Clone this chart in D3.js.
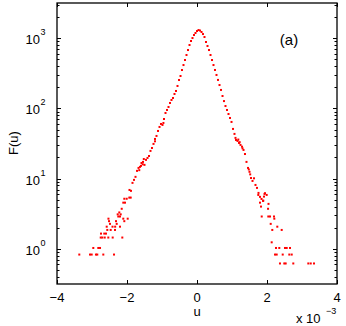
<!DOCTYPE html>
<html>
<head>
<meta charset="utf-8">
<script src="https://cdn.jsdelivr.net/npm/d3@7"></script>
<style>
  body { margin: 0; background: #fff; }
  text { font-family: "Liberation Sans", Arial, sans-serif; fill: #000; }
</style>
</head>
<body>
<div class="chart"></div>
<script>
// u is in units of 1e-3 (axis shows "x 10^-3")
const coreU = [-1.929,-1.886,-1.843,-1.800,-1.757,-1.714,-1.671,-1.629,-1.586,-1.543,-1.500,-1.457,-1.414,-1.371,-1.329,-1.286,-1.243,-1.200,-1.157,-1.114,-1.071,-1.029,-0.986,-0.943,-0.900,-0.857,-0.814,-0.771,-0.729,-0.686,-0.643,-0.600,-0.557,-0.514,-0.471,-0.429,-0.386,-0.343,-0.300,-0.257,-0.214,-0.171,-0.129,-0.086,-0.043,0,
  0.043,0.086,0.129,0.171,0.214,0.257,0.300,0.343,0.386,0.429,0.471,0.514,0.557,0.600,0.643,0.686,0.729,0.771,0.814,0.857,0.900,0.943,0.986,1.029,1.071,1.114,1.157,1.200,1.243,1.286,1.329,1.371,1.414,1.457,1.500,1.543,1.586,1.629,1.671,1.714,1.757,1.800,1.843,1.886,1.929];
const coreF = [6.9,6.7,8.7,9.6,10.6,12.9,14.2,14.7,16.7,17.3,15.7,18.5,19.7,21.0,24.8,27.3,31.2,36.7,40.5,47.7,54.4,60.0,58.1,70.6,86.0,94.9,104.7,119.4,131.7,140.6,160.3,176.9,208.4,253.6,289,351.6,414,488,575,677,798,910,1003,1107,1183,1262,
  1303,1282,1222,1143,1037,881,773,677,575,488,414,352,299,254,215,183,150,127,108,94.9,83.2,73.0,64.1,51.0,43.3,35.5,34.4,32.2,30.2,28.5,25.6,22.4,17.3,14.2,12.5,10.2,9.27,10.1,8.13,7.38,6.26,5.5,5.14,4.82,6.06];

// extra scattered points along the flanks
const scatterU = [-1.55,-1.60,-1.65,-1.52,-1.20,-0.96,1.10,1.18,1.22,1.30,1.48,1.52];
const scatterF = [16.0,15.2,13.2,19.0,34.0,62.0,38.0,36.0,33.0,27.0,13.5,11.5];

const leftTailU = [-3.363,-3.057,-3.009,-2.886,-2.849,-2.677,-2.371,
  -2.963,-2.820,-2.771,
  -2.751,-2.706,-2.637,-2.534,-2.409,-2.134,
  -2.743,-2.649,-2.600,
  -2.563,-2.466,-2.343,
  -2.580,-2.414,-2.338,-2.200,
  -2.486,-2.294,
  -2.514,-2.314,-2.077,
  -2.530,-2.106,-1.980,
  -2.249,-2.200,
  -2.266,-2.180,
  -2.220,-2.151,
  -2.106,-2.057,
  -2.009,-2.077,
  -1.934,-1.894];
const leftTailF = [0.83,0.83,0.83,0.83,0.83,0.83,0.83,
  1.03,1.03,1.03,
  1.45,1.45,1.45,1.45,1.45,1.45,
  1.65,1.65,1.65,
  1.86,1.86,1.86,
  2.07,2.07,2.07,2.07,
  2.27,2.27,
  2.48,2.48,2.48,
  2.69,2.69,2.69,
  2.89,2.89,
  3.10,3.10,
  3.30,3.72,
  4.55,4.55,
  5.17,5.17,
  5.37,5.37];

const rightTailU = [2.371,2.494,2.534,2.751,3.180,3.249,3.343,
  2.229,2.277,2.449,2.637,2.706,
  2.257,2.351,2.514,2.563,2.657,
  2.134,
  2.151,2.420,
  2.294,
  2.106,
  2.209,
  1.849,2.037,2.086,2.200,
  2.030,1.829,2.043,1.800,1.894,1.914,1.991,1.751,1.943];
const rightTailF = [0.62,0.62,0.62,0.62,0.62,0.62,0.62,
  0.83,0.83,0.83,0.83,0.83,
  1.03,1.03,1.03,1.03,1.03,
  1.24,
  1.86,1.86,
  2.07,
  2.27,
  2.69,
  2.89,2.89,2.89,2.89,
  3.72,4.0,4.37,4.55,4.86,5.55,5.86,5.86,6.2];

const xTicks = [-4, -2, 0, 2, 4];
const yTicks = [0, 1, 2, 3]; // exponents

const W = 346, H = 326;
const L = 57, R = 337, T = 3, B = 284;

const svg = d3.select(".chart").append("svg")
  .attr("width", W).attr("height", H);

const x = d3.scaleLinear().domain([-4, 4]).range([L, R]);
const y = d3.scaleLog().domain([Math.pow(10, -0.5), Math.pow(10, 3.5)]).range([B, T]);

// points
const pts = [];
[[coreU, coreF], [scatterU, scatterF], [leftTailU, leftTailF], [rightTailU, rightTailF]].forEach(function(s) {
  s[0].forEach(function(u, i) { pts.push({u: u, f: s[1][i]}); });
});

svg.append("g").selectAll("rect")
  .data(pts).enter().append("rect")
  .attr("x", function(d) { return x(d.u) - 1; })
  .attr("y", function(d) { return y(d.f) - 1; })
  .attr("width", 2).attr("height", 2)
  .attr("fill", "#ff0000");

// ticks
const tk = svg.append("g").attr("stroke", "#000").attr("stroke-width", 1);
xTicks.forEach(function(t) {
  const px = Math.round(x(t)) + 0.5;
  tk.append("line").attr("x1", px).attr("x2", px).attr("y1", B).attr("y2", B - 4);
  tk.append("line").attr("x1", px).attr("x2", px).attr("y1", T).attr("y2", T + 4);
});
// log ticks, major and minor
for (let e = -1; e <= 3; e++) {
  for (let m = 1; m <= 9; m++) {
    const v = m * Math.pow(10, e);
    if (v < y.domain()[0] || v > y.domain()[1]) continue;
    const py = Math.round(y(v)) + 0.5;
    const len = m === 1 ? 4 : 2.5;
    tk.append("line").attr("x1", L).attr("x2", L + len).attr("y1", py).attr("y2", py);
    tk.append("line").attr("x1", R).attr("x2", R - len).attr("y1", py).attr("y2", py);
  }
}

// frame
svg.append("rect")
  .attr("x", L).attr("y", T).attr("width", R - L).attr("height", B - T)
  .attr("fill", "none").attr("stroke", "#000").attr("stroke-width", 1.3);

// tick labels
svg.append("g").selectAll("text")
  .data(xTicks).enter().append("text")
  .attr("x", function(d) { return x(d); })
  .attr("y", 302)
  .attr("text-anchor", "middle")
  .attr("font-size", 13)
  .text(function(d) { return d < 0 ? "\u2212" + Math.abs(d) : d; });

yTicks.forEach(function(e) {
  const py = y(Math.pow(10, e));
  svg.append("text")
    .attr("x", 40).attr("y", py + 6)
    .attr("text-anchor", "end")
    .attr("font-size", 13)
    .text("10");
  svg.append("text")
    .attr("x", 40.5).attr("y", py - 3)
    .attr("font-size", 9)
    .text(e);
});

// axis labels
svg.append("text")
  .attr("x", x(0)).attr("y", 316)
  .attr("text-anchor", "middle")
  .attr("font-size", 13)
  .text("u");

svg.append("text")
  .attr("transform", "translate(18," + 143 + ") rotate(-90)")
  .attr("text-anchor", "middle")
  .attr("font-size", 13)
  .text("F(u)");

svg.append("text")
  .attr("x", 296).attr("y", 323)
  .attr("font-size", 13)
  .text("x 10");
svg.append("text")
  .attr("x", 326).attr("y", 314)
  .attr("font-size", 9)
  .text("\u22123");

svg.append("text")
  .attr("x", 289).attr("y", 45)
  .attr("text-anchor", "middle")
  .attr("font-size", 15)
  .text("(a)");
</script>
</body>
</html>
